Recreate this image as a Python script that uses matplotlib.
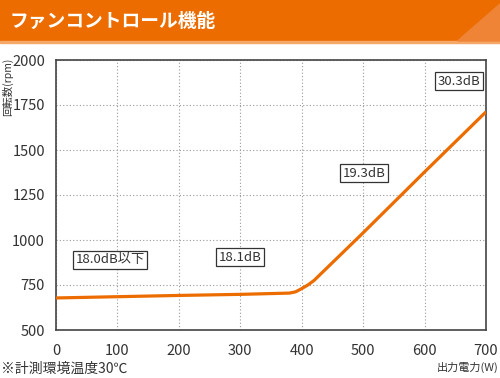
import matplotlib
matplotlib.use('Agg')
import matplotlib.pyplot as plt
from matplotlib.patches import Rectangle, Polygon

plt.rcParams['font.family'] = ['Noto Sans CJK JP', 'DejaVu Sans']

# fan speed vs output power
power = [0, 100, 200, 300, 380, 390, 400, 410, 420, 500, 600, 700]
rpm = [678, 685, 692, 698, 705, 712, 730, 750, 775, 1040, 1378, 1712]

notes = ['18.0dB以下', '18.1dB', '19.3dB', '30.3dB']
note_x = [88, 300, 502, 656]
note_y = [889, 905, 1372, 1883]

xticks = [0, 100, 200, 300, 400, 500, 600, 700]
yticks = [500, 750, 1000, 1250, 1500, 1750, 2000]

ORANGE = '#EC6C00'

fig = plt.figure(figsize=(5, 3.78), dpi=100)

# header bar
fig.patches.append(Rectangle((0, 1 - 41 / 378), 1, 41 / 378, transform=fig.transFigure,
                             color=ORANGE, zorder=0))
fig.patches.append(Polygon([(1, 1 - 41 / 378), (0.915, 1 - 41 / 378), (1, 1 - 4 / 378)],
                           closed=True, transform=fig.transFigure, color='#EF8436', zorder=1))
fig.patches.append(Rectangle((0, 1 - 43 / 378), 1, 2 / 378, transform=fig.transFigure,
                             color='#F5A868', zorder=0))
fig.text(10 / 500, 1 - 21 / 378, 'ファンコントロール機能', color='white', fontsize=13.5,
         fontweight='bold', va='center', ha='left')

ax = fig.add_axes([56 / 500, 48 / 378, 430 / 500, 270 / 378])
ax.plot(power, rpm, color=ORANGE, lw=2.3, solid_capstyle='butt', zorder=3)

ax.set_xlim(0, 700)
ax.set_ylim(500, 2000)
ax.set_xticks(xticks)
ax.set_yticks(yticks)
ax.grid(True, color='#999999', linestyle=(0, (1, 2)), lw=0.8)
ax.tick_params(length=0, labelsize=10.5, colors='#333333')
ax.tick_params(axis='x', pad=10)
ax.tick_params(axis='y', pad=8)
for s in ax.spines.values():
    s.set_color('#444444')
    s.set_linewidth(1.2)

for t, x, y in zip(notes, note_x, note_y):
    ax.text(x, y, t, fontsize=9.5, color='#333333', ha='center', va='center',
            bbox=dict(boxstyle='square,pad=0.2', fc='white', ec='#333333', lw=0.9), zorder=4)

fig.text(8 / 500, 1 - 87 / 378, '回転数(rpm)', rotation=90, fontsize=7.5, color='#333333',
         ha='center', va='center')
fig.text(499 / 500, 1 - 367 / 378, '出力電力(W)', fontsize=8, color='#333333',
         ha='right', va='center')
fig.text(1 / 500, 1 - 369 / 378, '※計測環境温度30℃', fontsize=10, color='#333333',
         ha='left', va='center')

fig.savefig('out.png', dpi=100)
